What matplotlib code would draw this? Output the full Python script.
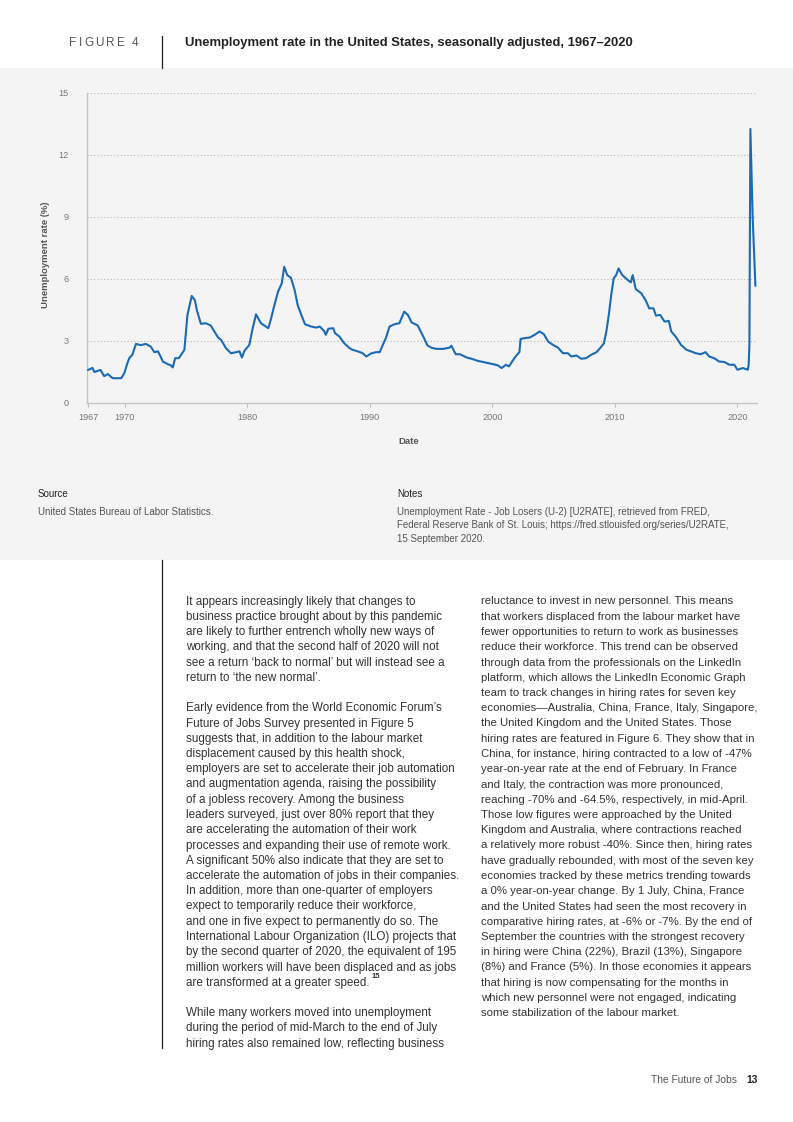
import matplotlib.pyplot as plt
from matplotlib.patches import Rectangle
from matplotlib.lines import Line2D

# Page size in pixels (dpi 100)
W, H = 793, 1122

# Unemployment rate (U-2)
years = [1967.0, 1967.35, 1967.5, 1968.0, 1968.3, 1968.6, 1969.0, 1969.7, 1969.95, 1970.2,
         1970.35, 1970.6, 1970.9, 1971.3, 1971.7, 1972.1, 1972.4, 1972.7, 1973.1, 1973.5,
         1973.75, 1973.9, 1974.1, 1974.4, 1974.85, 1975.1, 1975.45, 1975.7, 1975.9, 1976.2,
         1976.6, 1977.0, 1977.3, 1977.6, 1977.85, 1978.25, 1978.65, 1979.1, 1979.35, 1979.55,
         1979.75, 1980.15, 1980.4, 1980.7, 1981.1, 1981.5, 1981.7, 1981.9, 1982.2, 1982.5,
         1982.8, 1983.0, 1983.25, 1983.55, 1983.85, 1984.1, 1984.4, 1984.7, 1985.2, 1985.6,
         1985.9, 1986.25, 1986.4, 1986.6, 1987.0, 1987.15, 1987.5, 1987.9, 1988.35, 1988.6,
         1989.0, 1989.4, 1989.7, 1990.1, 1990.5, 1990.8, 1991.05, 1991.3, 1991.6, 1992.0,
         1992.4, 1992.8, 1993.1, 1993.4, 1993.9, 1994.35, 1994.7, 1995.0, 1995.4, 1996.0,
         1996.5, 1996.65, 1997.0, 1997.35, 1997.9, 1998.3, 1998.8, 1999.25, 1999.65, 2000.05,
         2000.45, 2000.75, 2001.1, 2001.35, 2001.7, 2002.0, 2002.2, 2002.3, 2002.65, 2003.05,
         2003.45, 2003.85, 2004.2, 2004.55, 2004.95, 2005.35, 2005.75, 2006.15, 2006.45, 2006.85,
         2007.25, 2007.65, 2008.05, 2008.5, 2008.9, 2009.1, 2009.3, 2009.5, 2009.7, 2009.9,
         2010.1, 2010.3, 2010.6, 2011.05, 2011.3, 2011.45, 2011.7, 2012.15, 2012.5, 2012.8,
         2013.15, 2013.35, 2013.7, 2014.05, 2014.4, 2014.6, 2014.95, 2015.4, 2015.85, 2016.2,
         2016.6, 2017.0, 2017.4, 2017.7, 2018.1, 2018.5, 2018.95, 2019.35, 2019.75, 2020.0,
         2020.45, 2020.85, 2020.92, 2020.98, 2021.06, 2021.25, 2021.47]
rates = [1.6, 1.7, 1.5, 1.6, 1.3, 1.4, 1.2, 1.2, 1.45, 1.93,
         2.17, 2.33, 2.86, 2.8, 2.86, 2.73, 2.46, 2.5, 2.0, 1.88,
         1.82, 1.72, 2.17, 2.17, 2.57, 4.26, 5.18, 4.98, 4.42, 3.83,
         3.86, 3.75, 3.46, 3.17, 3.05, 2.65, 2.41, 2.46, 2.5, 2.2,
         2.52, 2.81, 3.54, 4.29, 3.86, 3.7, 3.62, 4.02, 4.74, 5.39,
         5.79, 6.59, 6.19, 6.06, 5.47, 4.74, 4.26, 3.81, 3.7, 3.65,
         3.7, 3.49, 3.3, 3.59, 3.62, 3.38, 3.22, 2.89, 2.65, 2.57,
         2.5, 2.41, 2.25, 2.4, 2.46, 2.46, 2.81, 3.14, 3.7, 3.81,
         3.86, 4.42, 4.26, 3.9, 3.75, 3.22, 2.78, 2.68, 2.62, 2.62,
         2.68, 2.77, 2.36, 2.36, 2.2, 2.14, 2.04, 1.98, 1.93, 1.88,
         1.82, 1.69, 1.85, 1.77, 2.09, 2.33, 2.46, 3.1, 3.14, 3.17,
         3.3, 3.46, 3.33, 2.97, 2.81, 2.68, 2.41, 2.41, 2.25, 2.3,
         2.14, 2.17, 2.33, 2.46, 2.73, 2.89, 3.46, 4.26, 5.23, 6.03,
         6.19, 6.51, 6.19, 5.95, 5.84, 6.19, 5.51, 5.31, 4.98, 4.58,
         4.58, 4.23, 4.26, 3.94, 3.97, 3.46, 3.22, 2.81, 2.57, 2.5,
         2.41, 2.36, 2.46, 2.25, 2.17, 2.01, 1.98, 1.85, 1.85, 1.61,
         1.69, 1.61, 1.85, 2.81, 13.26, 8.92, 5.68]

y_ticks = [0, 3, 6, 9, 12, 15]
x_ticks = [1967, 1970, 1980, 1990, 2000, 2010, 2020]

left_col = [
    "It appears increasingly likely that changes to",
    "business practice brought about by this pandemic",
    "are likely to further entrench wholly new ways of",
    "working, and that the second half of 2020 will not",
    "see a return \u2018back to normal\u2019 but will instead see a",
    "return to \u2018the new normal\u2019.",
    "",
    "Early evidence from the World Economic Forum\u2019s",
    "Future of Jobs Survey presented in Figure 5",
    "suggests that, in addition to the labour market",
    "displacement caused by this health shock,",
    "employers are set to accelerate their job automation",
    "and augmentation agenda, raising the possibility",
    "of a jobless recovery. Among the business",
    "leaders surveyed, just over 80% report that they",
    "are accelerating the automation of their work",
    "processes and expanding their use of remote work.",
    "A significant 50% also indicate that they are set to",
    "accelerate the automation of jobs in their companies.",
    "In addition, more than one-quarter of employers",
    "expect to temporarily reduce their workforce,",
    "and one in five expect to permanently do so. The",
    "International Labour Organization (ILO) projects that",
    "by the second quarter of 2020, the equivalent of 195",
    "million workers will have been displaced and as jobs",
    "are transformed at a greater speed.",
    "",
    "While many workers moved into unemployment",
    "during the period of mid-March to the end of July",
    "hiring rates also remained low, reflecting business",
]
right_col = [
    "reluctance to invest in new personnel. This means",
    "that workers displaced from the labour market have",
    "fewer opportunities to return to work as businesses",
    "reduce their workforce. This trend can be observed",
    "through data from the professionals on the LinkedIn",
    "platform, which allows the LinkedIn Economic Graph",
    "team to track changes in hiring rates for seven key",
    "economies\u2014Australia, China, France, Italy, Singapore,",
    "the United Kingdom and the United States. Those",
    "hiring rates are featured in Figure 6. They show that in",
    "China, for instance, hiring contracted to a low of -47%",
    "year-on-year rate at the end of February. In France",
    "and Italy, the contraction was more pronounced,",
    "reaching -70% and -64.5%, respectively, in mid-April.",
    "Those low figures were approached by the United",
    "Kingdom and Australia, where contractions reached",
    "a relatively more robust -40%. Since then, hiring rates",
    "have gradually rebounded, with most of the seven key",
    "economies tracked by these metrics trending towards",
    "a 0% year-on-year change. By 1 July, China, France",
    "and the United States had seen the most recovery in",
    "comparative hiring rates, at -6% or -7%. By the end of",
    "September the countries with the strongest recovery",
    "in hiring were China (22%), Brazil (13%), Singapore",
    "(8%) and France (5%). In those economies it appears",
    "that hiring is now compensating for the months in",
    "which new personnel were not engaged, indicating",
    "some stabilization of the labour market.",
]
notes_lines = [
    "Unemployment Rate - Job Losers (U-2) [U2RATE], retrieved from FRED,",
    "Federal Reserve Bank of St. Louis; https://fred.stlouisfed.org/series/U2RATE,",
    "15 September 2020.",
]

plt.rcParams['font.family'] = ['Liberation Sans', 'DejaVu Sans']


def fx(x):
    return x / W


def fy(y):
    return 1 - y / H


fig = plt.figure(figsize=(W / 100, H / 100), dpi=100)
fig.patch.set_facecolor('white')
renderer = fig.canvas.get_renderer()

# grey panel behind the chart
fig.patches.append(Rectangle((0, fy(560)), 1, fy(68) - fy(560), transform=fig.transFigure,
                             facecolor='#f4f4f4', edgecolor='none', zorder=-5))

# header, letter-spaced label
xpos = 69
for ch in "FIGURE 4":
    if ch == " ":
        xpos += 3.0 + 2.2
        continue
    t = fig.text(fx(xpos), fy(42.5), ch, fontsize=8.5, color='#555555', va='center')
    xpos += t.get_window_extent(renderer).width + 2.2
fig.lines.append(Line2D([fx(162), fx(162)], [fy(36), fy(68)], transform=fig.transFigure,
                        color='#222222', lw=0.9))
fig.text(fx(185), fy(43), "Unemployment rate in the United States, seasonally adjusted, 1967\u20132020",
         fontsize=9.4, fontweight='bold', color='#222222', va='center')

# chart
ax = fig.add_axes([fx(87), fy(403), (757 - 87) / W, (403 - 93) / H])
ax.set_facecolor('none')
ax.plot(years, rates, color='#1b6bb4', lw=1.5, solid_joinstyle='round', zorder=3)
ax.set_xlim(1966.9, 2021.6)
ax.set_ylim(0, 15)
ax.set_yticks(y_ticks)
ax.set_xticks(x_ticks)
ax.tick_params(axis='y', length=0, pad=13, labelsize=6.6, labelcolor='#777777')
ax.tick_params(axis='x', length=3, width=0.8, color='#bbbbbb', pad=4, labelsize=6.6,
               labelcolor='#777777')
for v in y_ticks[1:]:
    ax.axhline(v, color='#b5b5b5', lw=0.8, ls=(0, (1, 2)), zorder=1)
for s in ['top', 'right']:
    ax.spines[s].set_visible(False)
for s in ['left', 'bottom']:
    ax.spines[s].set_color('#c4c4c4')
    ax.spines[s].set_linewidth(1.0)
fig.text(fx(409), fy(441), "Date", fontsize=6.8, fontweight='bold', color='#555555',
         ha='center', va='center')
fig.text(fx(45), fy(255), "Unemployment rate (%)", fontsize=6.8, fontweight='bold',
         color='#555555', rotation=90, ha='center', va='center')

# source and notes
fig.text(fx(38), fy(494), "Source", fontsize=7, color='#222222', va='center')
fig.text(fx(38), fy(512), "United States Bureau of Labor Statistics.", fontsize=7,
         color='#555555', va='center')
fig.text(fx(397), fy(494), "Notes", fontsize=7, color='#222222', va='center')
for i, line in enumerate(notes_lines):
    fig.text(fx(397), fy(512 + i * 13.5), line, fontsize=7, color='#555555', va='center')

# body text
fig.lines.append(Line2D([fx(162), fx(162)], [fy(560), fy(1048)], transform=fig.transFigure,
                        color='#222222', lw=0.9))
step = 15.25
last = None
for i, line in enumerate(left_col):
    if line:
        t = fig.text(fx(186), fy(601.5 + i * step), line, fontsize=8.35, color='#333333',
                     va='center')
        if line.startswith("are transformed"):
            last = t
ax.annotate("15", xy=(1, 0.7), xycoords=last, fontsize=5.5, fontweight='bold',
            color='#333333', va='bottom', xytext=(1.5, 0), textcoords='offset points')
for i, line in enumerate(right_col):
    fig.text(fx(481), fy(601.5 + i * step), line, fontsize=8.2, color='#333333', va='center')

# footer
fig.text(fx(737), fy(1080), "The Future of Jobs", fontsize=7.4, color='#555555',
         ha='right', va='center')
fig.text(fx(746), fy(1080), "13", fontsize=7.4, fontweight='bold', color='#222222', va='center')

fig.savefig('out.png', dpi=100)
